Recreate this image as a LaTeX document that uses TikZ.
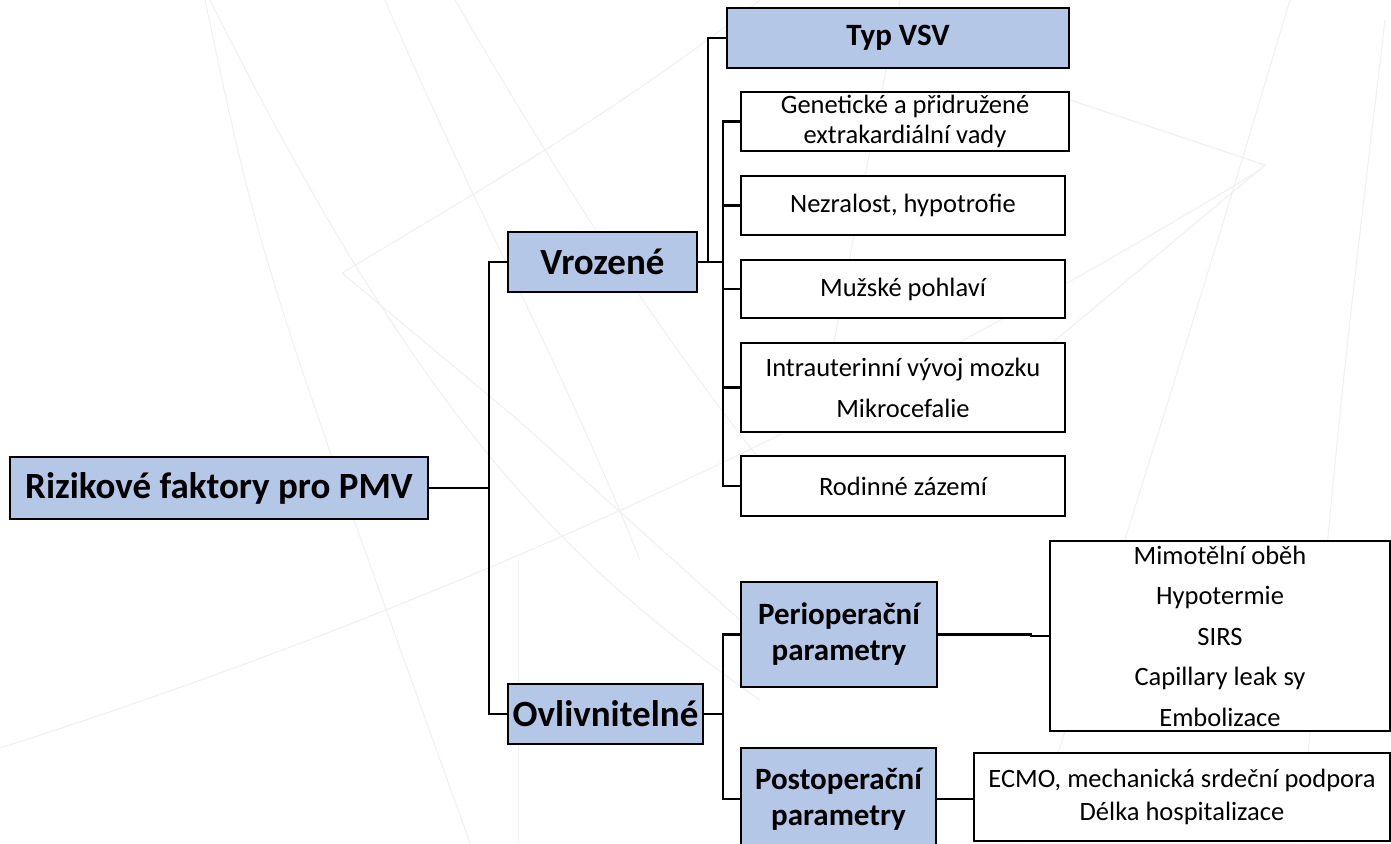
\documentclass[tikz,border=0pt]{standalone}
\usepackage{fontspec}
\setmainfont{Carlito}
\begin{document}
\begin{tikzpicture}[x=1pt,y=-1pt,
  box/.style={draw=black,line width=2.8pt,rectangle,inner sep=0pt,align=center,
    font=\fontsize{26.5}{30}\selectfont},
  blue/.style={box,fill=headblue},
  big/.style={blue,font=\fontsize{37}{42}\selectfont\bfseries},
  mid/.style={blue,font=\fontsize{31}{36}\selectfont\bfseries},
  conn/.style={line width=2.6pt,draw=black},
  bg/.style={draw=black!6,line width=1pt}]
\definecolor{headblue}{RGB}{180,199,231}
\useasboundingbox (0,0) rectangle (1391,843);
\clip (0,0) rectangle (1391,843);
\fill[white] (0,0) rectangle (1391,843);
% faint background pattern
\draw[bg] (205,0) .. controls (260,260) .. (470,843);
\draw[bg] (210,0) .. controls (420,420) and (560,560) .. (760,700);
\draw[bg] (385,0) .. controls (470,200) and (560,360) .. (640,560);
\draw[bg] (455,0) .. controls (560,180) and (650,320) .. (760,460);
\draw[bg] (0,748) .. controls (400,620) and (800,450) .. (1260,170);
\draw[bg] (342,273) .. controls (480,190) and (620,110) .. (760,0);
\draw[bg] (342,273) -- (518,420) -- (740,620);
\draw[bg] (518,560) -- (518,843);
\draw[bg] (1070,100) -- (1265,165) -- (960,420);
\draw[bg] (1290,0) .. controls (1200,300) .. (1030,843);
\draw[bg] (1385,20) .. controls (1340,400) .. (1300,843);
\draw[bg] (900,0) .. controls (860,200) .. (820,420);
% nodes
\node[big,line width=2.4pt,minimum width=418pt,minimum height=62pt] (root) at (219,488) {Rizikové faktory pro PMV};
\node[big,minimum width=189pt,minimum height=60pt] (vroz) at (602.5,262) {Vrozené};
\node[big,minimum width=195pt,minimum height=60pt] (ovl) at (605.5,714) {Ovlivnitelné};
\node[mid,minimum width=342pt,minimum height=60pt] (typ) at (898,38) {Typ VSV};
\node[box,fill=white,minimum width=328pt,minimum height=59pt] (gen) at (905,121.5) {Genetické a přidružené\\extrakardiální vady};
\node[box,fill=white,minimum width=324pt,minimum height=59pt] (nez) at (903,205.5) {Nezralost, hypotrofie};
\node[box,fill=white,minimum width=324pt,minimum height=58pt] (muz) at (903,289) {Mužské pohlaví};
\node[box,fill=white,minimum width=324pt,minimum height=89pt,font=\fontsize{26.5}{41}\selectfont] (intra) at (903,387.5) {Intrauterinní vývoj mozku\\Mikrocefalie};
\node[box,fill=white,minimum width=324pt,minimum height=60pt] (rod) at (903,486) {Rodinné zázemí};
\node[mid,minimum width=196pt,minimum height=105pt] (peri) at (839,634.5) {Perioperační\\parametry};
\node[mid,minimum width=195pt,minimum height=102pt] (post) at (838.5,799) {Postoperační\\parametry};
\node[box,fill=white,minimum width=340pt,minimum height=190pt,font=\fontsize{26.5}{40.5}\selectfont] (mimo) at (1220,636) {Mimotělní oběh\\Hypotermie\\SIRS\\Capillary leak sy\\Embolizace};
\node[box,fill=white,minimum width=416pt,minimum height=88pt,font=\fontsize{26.5}{33}\selectfont] (ecmo) at (1182,797) {ECMO, mechanická srdeční podpora\\Délka hospitalizace};
% junctions
\coordinate (j1) at (489,488);
\coordinate (j2) at (708,262);
\coordinate (j3) at (723,262);
\coordinate (j4) at (723,714);
\coordinate (jm) at (1031,636);
% connectors
\draw[conn] (root.east) -- (j1);
\draw[conn] (vroz.west) -| (j1) |- (ovl.west);
\draw[conn] (vroz.east) -- (j2) |- (typ.west);
\draw[conn] (j2) -- (j3);
\draw[conn] (gen.west) -| (j3) |- (rod.west);
\foreach \n in {nez,muz,intra} \draw[conn] (\n.west) -- (\n.west -| j3);
\draw[conn] (ovl.east) -- (j4);
\draw[conn] (peri.west) -| (j4) |- (post.west);
\draw[conn] (peri.east) -- (peri.east -| jm) |- (mimo.west);
\draw[conn] (post.east) -- (post.east -| ecmo.west);
\end{tikzpicture}
\end{document}
